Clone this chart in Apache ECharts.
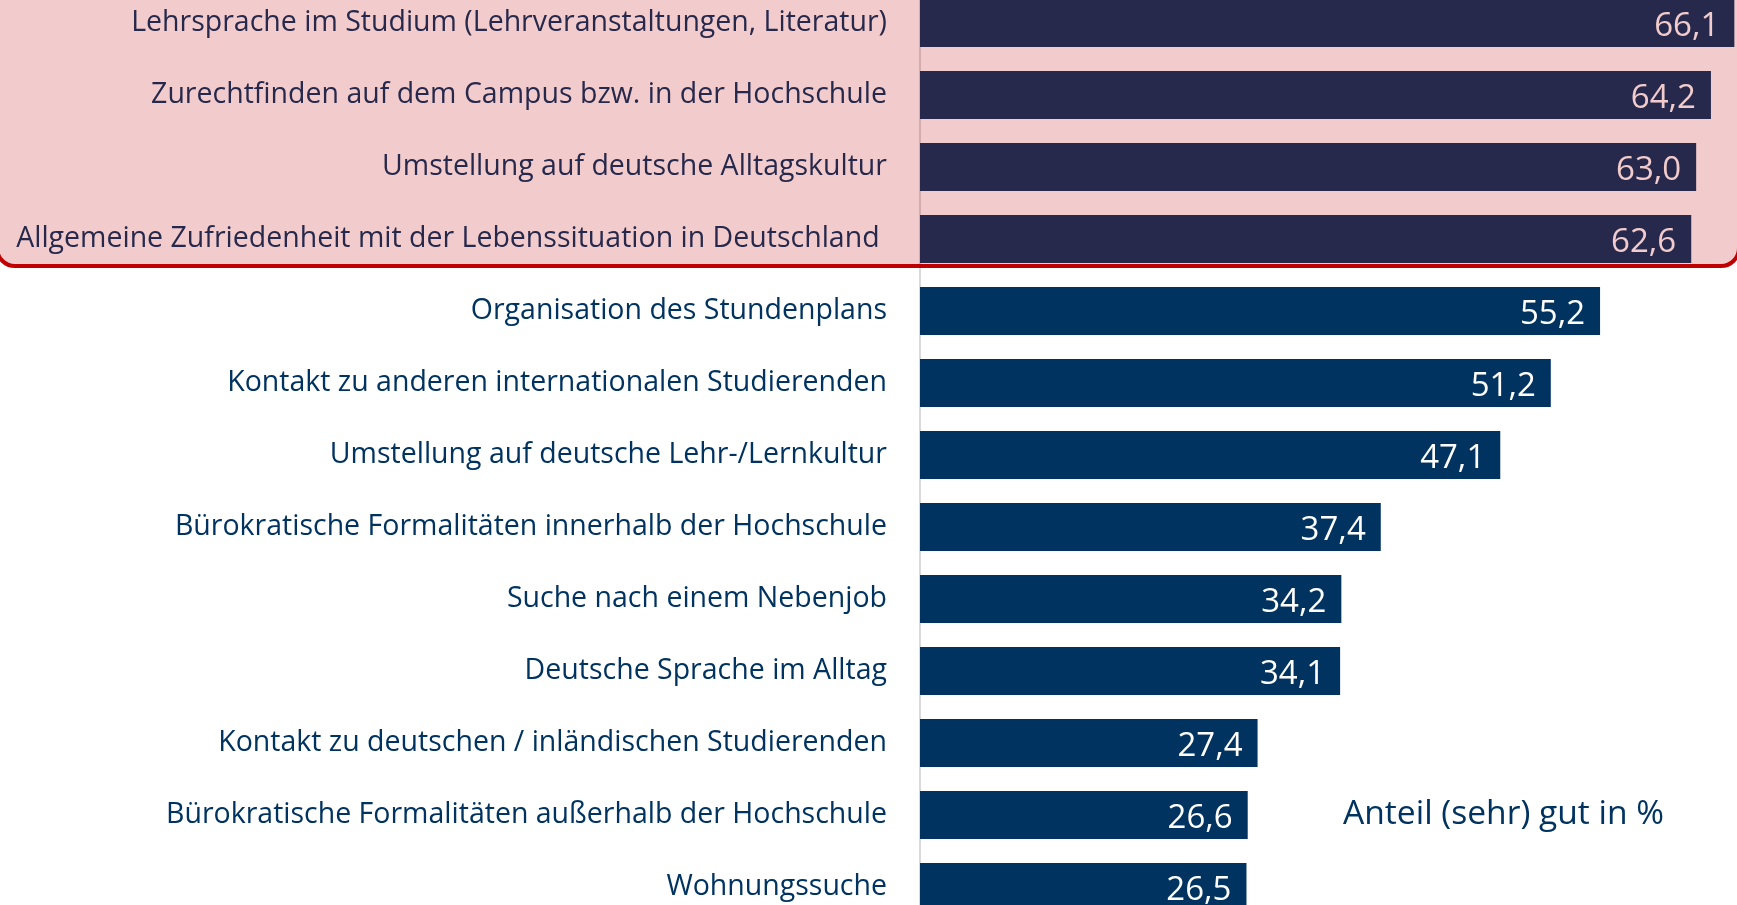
<!DOCTYPE html>
<html>
<head>
<meta charset="utf-8">
<script src="https://cdn.jsdelivr.net/npm/echarts@6/dist/echarts.min.js"></script>
<style>
  html, body { margin: 0; padding: 0; background: #fff; }
  #chart { width: 1737px; height: 905px; }
</style>
</head>
<body>
<div id="chart"></div>
<script>
  const categories = [
    'Lehrsprache im Studium (Lehrveranstaltungen, Literatur)',
    'Zurechtfinden auf dem Campus bzw. in der Hochschule',
    'Umstellung auf deutsche Alltagskultur',
    'Allgemeine Zufriedenheit mit der Lebenssituation in Deutschland ',
    'Organisation des Stundenplans',
    'Kontakt zu anderen internationalen Studierenden',
    'Umstellung auf deutsche Lehr-/Lernkultur',
    'Bürokratische Formalitäten innerhalb der Hochschule',
    'Suche nach einem Nebenjob',
    'Deutsche Sprache im Alltag',
    'Kontakt zu deutschen / inländischen Studierenden',
    'Bürokratische Formalitäten außerhalb der Hochschule',
    'Wohnungssuche'
  ]
  const values = [66.1, 64.2, 63.0, 62.6, 55.2, 51.2, 47.1, 37.4, 34.2, 34.1, 27.4, 26.6, 26.5]
  const unitLabel = 'Anteil (sehr) gut in %'

  const navy = '#003360'
  const font = 'Open Sans'

  const chart = echarts.init(document.getElementById('chart'))
  window.addEventListener('resize', () => { chart.resize() })

  let option = {
    animation: false,
    grid: {
      left: 920,
      top: -13,
      width: 862.4,
      height: 936,
      containLabel: false,
      outerBoundsMode: 'none'
    },
    xAxis: {
      type: 'value',
      min: 0,
      max: 70,
      show: false
    },
    yAxis: {
      type: 'category',
      inverse: true,
      data: categories,
      axisLine: { show: true, lineStyle: { color: '#d9d9d9', width: 2 } },
      axisTick: { show: false },
      axisLabel: {
        margin: 33,
        color: navy,
        fontFamily: font,
        fontSize: 28.5
      }
    },
    series: [
      {
        type: 'bar',
        data: values,
        barCategoryGap: '33%',
        itemStyle: { color: navy },
        label: {
          show: true,
          position: 'insideRight',
          distance: 15,
          color: '#fff',
          fontFamily: font,
          fontSize: 33,
          offset: [0, 4],
          formatter: p => p.value.toFixed(1).replace('.', ',')
        }
      }
    ],
    graphic: [
      {
        type: 'rect',
        z: 100,
        shape: { x: -3, y: -30, width: 1742, height: 296, r: 18 },
        style: { fill: 'rgba(192,0,0,0.2)', stroke: '#c00000', lineWidth: 4 }
      },
      {
        type: 'text',
        left: 1343,
        top: 797,
        style: {
          text: unitLabel,
          fill: navy,
          font: '33.6px ' + font
        }
      }
    ]
  }
  chart.setOption(option)
</script>
</body>
</html>
